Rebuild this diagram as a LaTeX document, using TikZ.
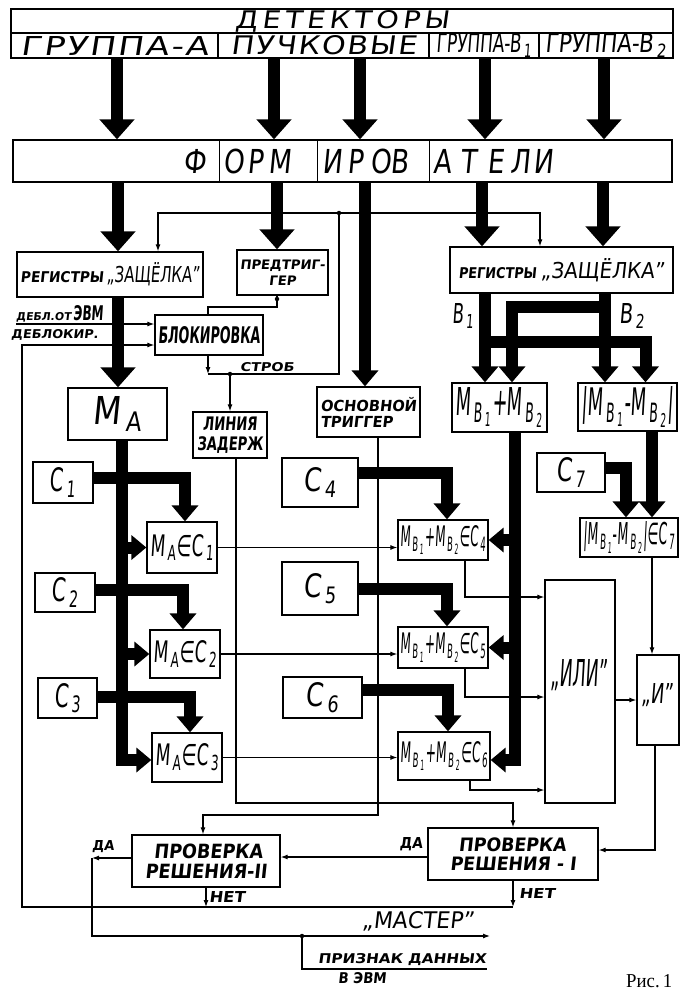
\documentclass[tikz,border=0pt]{standalone}
\usepackage{fontspec}
\usepackage{graphicx}
\setmainfont{DejaVu Sans}[FakeSlant=0.12]
\newfontfamily\rmserif{Liberation Serif}
\usetikzlibrary{arrows.meta}
\newcommand\rbx[3]{\resizebox{#1pt}{#2pt}{#3}}
\newcommand\lsp[1]{\addfontfeature{LetterSpace=#1}}
\newcommand\flet[2]{\makebox[#1pt][l]{\scalebox{0.8}[1]{#2}}}
\newcommand\sbs[1]{\kern1.5pt\textsubscript{#1}}
\newcommand\mybox[6]{\node[box,minimum width={(#4)-(#2)},minimum height={(#5)-(#3)}] (#1) at ({((#2)+(#4))/2},{((#3)+(#5))/2}) {#6};}
\begin{document}
\begin{tikzpicture}[x=1pt,y=-1pt,
  box/.style={draw,line width=1.3pt,inner sep=0pt},
  thinl/.style={line width=1.1pt},
  arr/.style={thinl,-{Latex[length=7pt,width=5pt]}},
  bigbus/.style={line width=12.5pt,-{Triangle[width=34pt,length=20pt]}},
  bus/.style={line width=12pt,-{Triangle[width=26pt,length=16pt]}},
  side/.style={line width=12pt,-{Triangle[width=24pt,length=15pt]}},
  lbl/.style={inner sep=0pt},
  dot/.style={circle,fill,inner sep=0pt,minimum size=4.5pt}]
\useasboundingbox (0,0) rectangle (680,991);

% detectors
\mybox{detT}{11}{9}{673}{33}{\rbx{214}{18}{\lsp{15}ДЕТЕКТОРЫ}}
\mybox{gA}{11}{33}{218}{58}{\rbx{188}{19}{\lsp{6}ГРУППА-А}}
\mybox{gP}{218}{33}{429}{58}{\rbx{186}{19}{\lsp{6}ПУЧКОВЫЕ}}
\mybox{gB1}{429}{33}{539}{58}{\rbx{96}{19}{ГРУППА-B\sbs{1}}}
\mybox{gB2}{539}{33}{673}{58}{\rbx{122}{19}{ГРУППА-B\sbs{2}}}

% formirovateli
\mybox{form}{13}{140}{672}{182}{}
\node[lbl,anchor=west] (formT) at (183,161) {\fontsize{33}{33}\selectfont\flet{40}{Ф}\flet{24}{О}\flet{21}{Р}\flet{54}{М}\flet{25}{И}\flet{23}{Р}\flet{20}{О}\flet{43}{В}\flet{27}{А}\flet{27}{Т}\flet{23}{Е}\flet{23}{Л}\flet{22}{И}};
\draw[thinl] ([xshift=207pt]form.north west) -- ([xshift=207pt]form.south west);
\draw[thinl] ([xshift=305pt]form.north west) -- ([xshift=305pt]form.south west);
\draw[thinl] ([xshift=417pt]form.north west) -- ([xshift=417pt]form.south west);

\draw[bigbus] ([xshift=2.5pt]gA.south) -- ([xshift=2.5pt]gA.south |- form.north);
\draw[bigbus] ([xshift=-49.5pt]gP.south) -- ([xshift=-49.5pt]gP.south |- form.north);
\draw[bigbus] ([xshift=36.5pt]gP.south) -- ([xshift=36.5pt]gP.south |- form.north);
\draw[bigbus] ([xshift=1pt]gB1.south) -- ([xshift=1pt]gB1.south |- form.north);
\draw[bigbus] ([xshift=-2pt]gB2.south) -- ([xshift=-2pt]gB2.south |- form.north);

% registers etc
\mybox{regA}{17}{252}{203}{297}{\rbx{83}{11}{\bfseries РЕГИСТРЫ}\hspace{3pt}\rbx{93}{20}{„ЗАЩЁЛКА"}}
\mybox{pt}{237}{250}{328}{295}{\rbx{85}{25}{\bfseries\shortstack{ПРЕДТРИГ-\\ГЕР}}}
\mybox{regB}{450}{247}{673}{293}{\rbx{78}{11}{\bfseries РЕГИСТРЫ}\hspace{4pt}\rbx{124}{20}{„ЗАЩЁЛКА"}}
\mybox{osn}{317}{387}{420}{437}{\rbx{96}{30}{\bfseries\shortstack[l]{ОСНОВНОЙ\\ТРИГГЕР}}}
\mybox{blk}{155}{315}{263}{355}{\rbx{102}{17}{\bfseries БЛОКИРОВКА}}
\mybox{lin}{193}{412}{267}{458}{\rbx{66}{33}{\bfseries\shortstack{ЛИНИЯ\\ЗАДЕРЖ}}}

\draw[bigbus] ([xshift=8pt]regA.north |- form.south) -- ([xshift=8pt]regA.north);
\draw[bigbus] ([xshift=-5.5pt]pt.north |- form.south) -- ([xshift=-5.5pt]pt.north);
\draw[bus] ([xshift=-3.5pt]osn.north |- form.south) -- ([xshift=-3.5pt]osn.north);
\draw[bigbus] ([xshift=-79.5pt]regB.north |- form.south) -- ([xshift=-79.5pt]regB.north);
\draw[bigbus] ([xshift=41.5pt]regB.north |- form.south) -- ([xshift=41.5pt]regB.north);

% strobe lines
\coordinate (j1) at (339,213);
\draw[arr] (j1) -| ([xshift=48pt]regA.north);
\draw[arr] (j1) -| ([xshift=-21.5pt]regB.north);
\coordinate (sb) at (208,374);
\draw[arr] (blk.south -| sb) -- (sb);
\draw[thinl] (sb) -| (j1);
\node[dot] (j1d) at (j1) {};
\coordinate (j2) at (230,374);
\node[dot] (j2d) at (j2) {};
\draw[arr] (j2) -- (lin.north);
\node[lbl] (strob) at (267,367) {\rbx{54}{9}{\bfseries СТРОБ}};
\coordinate (pb) at (277,307);
\draw[thinl] (pt.south -| pb) -- (pb) -| (blk.north -| sb);
\node[dot] (ptd) at (277,299) {};

% deblock inputs
\coordinate (d1) at (16,324);
\draw[arr] (d1) -- (d1 -| blk.west);
\node[lbl,anchor=south west] (d1t) at (16,322) {\rbx{55}{8}{\bfseries ДЕБЛ.ОТ}\rbx{32}{15}{\bfseries\,ЭВМ}};
\coordinate (lt) at (22,345);
\coordinate (lc) at (22,907);
\coordinate (nr) at (513,907);
\draw[arr] (nr) -- (lc) -- (lt) -- (lt -| blk.west);
\node[lbl,anchor=south west] (d2t) at (11,341) {\rbx{87}{9}{\bfseries ДЕБЛОКИР.}};

% A part
\mybox{MA}{68}{388}{167}{440}{\rbx{50}{28}{M\sbs{A}}}
\mybox{C1}{33}{462}{93}{503}{\rbx{26}{24}{C\sbs{1}}}
\mybox{C2}{35}{573}{95}{612}{\rbx{27}{24}{C\sbs{2}}}
\mybox{C3}{38}{678}{97}{718}{\rbx{27}{24}{C\sbs{3}}}
\mybox{MA1}{147}{522}{217}{573}{\rbx{64}{22}{M\sbs{A}∈C\sbs{1}}}
\mybox{MA2}{150}{630}{220}{678}{\rbx{64}{22}{M\sbs{A}∈C\sbs{2}}}
\mybox{MA3}{152}{733}{222}{782}{\rbx{64}{22}{M\sbs{A}∈C\sbs{3}}}

% B part
\mybox{mp}{452}{383}{547}{432}{\rbx{88}{28}{M\sbs{B\sbs{1}}+M\sbs{B\sbs{2}}}}
\mybox{mm}{578}{383}{677}{431}{\rbx{92}{29}{|M\sbs{B\sbs{1}}-M\sbs{B\sbs{2}}|}}
\mybox{C4}{282}{458}{358}{507}{\rbx{34}{24}{C\sbs{4}}}
\mybox{C5}{282}{562}{358}{615}{\rbx{34}{24}{C\sbs{5}}}
\mybox{C6}{283}{677}{362}{718}{\rbx{34}{24}{C\sbs{6}}}
\mybox{MB4}{398}{520}{488}{560}{\rbx{86}{21}{M\sbs{B\sbs{1}}+M\sbs{B\sbs{2}}∈C\sbs{4}}}
\mybox{MB5}{398}{627}{488}{668}{\rbx{86}{21}{M\sbs{B\sbs{1}}+M\sbs{B\sbs{2}}∈C\sbs{5}}}
\mybox{MB6}{398}{732}{490}{780}{\rbx{88}{21}{M\sbs{B\sbs{1}}+M\sbs{B\sbs{2}}∈C\sbs{6}}}
\mybox{C7}{537}{453}{605}{492}{\rbx{30}{24}{C\sbs{7}}}
\mybox{M7}{580}{518}{678}{557}{\rbx{92}{23}{|M\sbs{B\sbs{1}}-M\sbs{B\sbs{2}}|∈C\sbs{7}}}
\mybox{ili}{545}{580}{615}{803}{}
\node[lbl] (iliT) at (579,675) {\rbx{57}{27}{„ИЛИ"}};
\mybox{iand}{637}{655}{679}{745}{}
\node[lbl] (iandT) at (657,695) {\rbx{32}{20}{„И"}};
\node[lbl] (B1l) at (463,316) {\rbx{22}{20}{B\sbs{1}}};
\node[lbl] (B2l) at (632,316) {\rbx{26}{20}{B\sbs{2}}};

% decision blocks
\mybox{pr1}{428}{828}{598}{880}{\rbx{126}{33}{\bfseries\shortstack[l]{\hspace*{5pt}ПРОВЕРКА\\РЕШЕНИЯ - I}}}
\mybox{pr2}{132}{835}{280}{887}{\rbx{122}{35}{\bfseries\shortstack[l]{\hspace*{5pt}ПРОВЕРКА\\РЕШЕНИЯ-II}}}

% thin signal lines
\draw[arr] (MA1.east) -- (MA1.east -| MB4.west);
\draw[arr] (MA2.east) -- (MA2.east -| MB5.west);
\draw[arr] (MA3.east) -- (MA3.east -| MB6.west);
\coordinate (lc2) at (236,803);
\draw[arr] (lin.south -| lc2) -- (lc2) -| (pr1.north);
\coordinate (oc) at (378,815);
\draw[arr] (osn.south -| oc) -- (oc) -| ([xshift=-3pt]pr2.north);
\coordinate (o4) at (465,597);
\draw[arr] (MB4.south -| o4) -- (o4) -- (o4 -| ili.west);
\coordinate (o5) at (465,697);
\draw[arr] (MB5.south -| o5) -- (o5) -- (o5 -| ili.west);
\coordinate (o6) at (470,790);
\draw[arr] (MB6.south -| o6) -- (o6) -- (o6 -| ili.west);
\draw[arr] (iand.west -| ili.east) -- (iand.west);
\draw[arr] ([xshift=23pt]M7.south) -- ([xshift=23pt]M7.south |- iand.north);
\coordinate (ic) at (655,850);
\draw[arr] (iand.south -| ic) -- (ic) -- (ic -| pr1.east);
\draw[arr] ([yshift=-3pt]pr1.west) -- ([yshift=-3pt]pr1.west -| pr2.east);
\coordinate (da2) at (92,858);
\draw[arr] (pr2.west |- da2) -- (da2);
\coordinate (ms) at (92,936);
\coordinate (mend) at (490,936);
\draw[arr] (da2) -- (ms) -- (mend);
\coordinate (jm) at (302,936);
\node[dot] (jmd) at (jm) {};
\coordinate (pz) at (302,969);
\coordinate (pze) at (487,969);
\draw[thinl] (jm) -- (pz) -- (pze);
\draw[arr] (pr2.south) -- (pr2.south |- nr);
\draw[arr] (pr1.south) -- (nr);

% thick buses A
\draw[bigbus] ([xshift=8pt]regA.south) -- ([xshift=8pt]regA.south |- MA.north);
\coordinate (ab) at (122,760);
\draw[side] ([xshift=4.5pt]MA.south) -- (ab) -- (ab -| MA3.west);
\draw[side] (MA1.west -| ab) -- (MA1.west);
\draw[side] (MA2.west -| ab) -- (MA2.west);
\draw[bus] ([yshift=5pt]C1.east) -| ([xshift=3pt]MA1.north);
\draw[bus] ([yshift=2.5pt]C2.east) -| ([xshift=-2pt]MA2.north);
\draw[bus] ([yshift=1pt]C3.east) -| ([xshift=3pt]MA3.north);

% thick buses B
\draw[bus] ([xshift=-76.5pt]regB.south) -- ([xshift=-76.5pt]regB.south |- mp.north);
\draw[bus] ([xshift=43.5pt]regB.south) -- ([xshift=43.5pt]regB.south |- mm.north);
\coordinate (ub) at (605,307);
\coordinate (lb) at (485,342);
\draw[bus] (ub) -| ([xshift=12.5pt]mp.north);
\draw[bus] (lb) -| ([xshift=18pt]mm.north);
\coordinate (bb) at (515,760);
\draw[side] ([xshift=15.5pt]mp.south) -- (bb) -- (bb -| MB6.east);
\draw[side] (MB4.east -| bb) -- (MB4.east);
\draw[side] (MB5.east -| bb) -- (MB5.east);
\draw[bus] ([yshift=9.5pt]C4.east) -| ([xshift=4pt]MB4.north);
\draw[bus] (C5.east) -| ([xshift=4pt]MB5.north);
\draw[bus] ([yshift=7.5pt]C6.east) -| ([xshift=4pt]MB6.north);
\draw[bus] ([xshift=24.5pt]mm.south) -- ([xshift=24.5pt]mm.south |- M7.north);
\draw[bus] ([yshift=4.5pt]C7.east) -| ([xshift=-3pt]M7.north);

% labels
\node[lbl] (da2l) at (103,847) {\rbx{22}{10}{\bfseries ДА}};
\node[lbl] (da1l) at (411,844) {\rbx{23}{11}{\bfseries ДА}};
\node[lbl] (net2) at (227,897) {\rbx{36}{11}{\bfseries НЕТ}};
\node[lbl] (net1) at (537,893) {\rbx{36}{10}{\bfseries НЕТ}};
\node[lbl,anchor=south] (mast) at (418,931) {\rbx{112}{17}{„МАСТЕР"}};
\node[lbl,anchor=south west] (priz) at (318,966) {\rbx{168}{10}{\bfseries ПРИЗНАК ДАННЫХ}};
\node[lbl,anchor=north west] (vevm) at (338,972) {\rbx{48}{11}{\bfseries В ЭВМ}};
\node[lbl,anchor=south west] (ris) at (626,988) {\rbx{46}{13}{\rmserif Рис.\,1}};
\end{tikzpicture}
\end{document}
